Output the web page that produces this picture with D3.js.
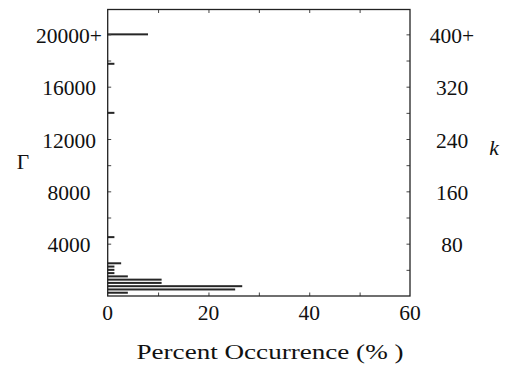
<!DOCTYPE html>
<html>
<head>
<meta charset="utf-8">
<script src="https://cdn.jsdelivr.net/npm/d3@7"></script>
<style>
  html, body { margin: 0; padding: 0; background: #fff; }
  svg text { font-family: "Liberation Serif", "DejaVu Serif", serif; fill: #111; }
</style>
</head>
<body>
<svg id="chart" width="514" height="371"></svg>
<script>
// Histogram of Γ (binned by 250, i.e. k bins of 5); values are percent occurrence
const gammaBins = [250, 500, 750, 1000, 1250, 1500, 1750, 2000, 2250, 2500, 4500, 14000, 17750, 20000];
const percent   = [4.0, 25.3, 26.7, 10.7, 10.7, 4.0, 1.33, 1.33, 1.33, 2.67, 1.33, 1.33, 1.33, 8.0];

const gammaTicks  = [4000, 8000, 12000, 16000, 20000];
const gammaLabels = ["4000", "8000", "12000", "16000", "20000+"];
const gammaMinor  = [2000, 4000, 6000, 8000, 10000, 12000, 14000, 16000, 18000, 20000];
const kTicks      = [80, 160, 240, 320, 400];
const kLabels     = ["80", "160", "240", "320", "400+"];
const kMinor      = [40, 80, 120, 160, 200, 240, 280, 320, 360, 400];
const xTicks      = [0, 20, 40, 60];
const xMinor      = [10, 20, 30, 40, 50];

const svg = d3.select("#chart");
const L = 107.7, R = 410, T = 9.5, B = 296;
const fs = 21.5;

const x = d3.scaleLinear().domain([0, 60]).range([L, R]);
const y = d3.scaleLinear().domain([0, 21900]).range([B, T]);
const yk = d3.scaleLinear().domain([0, 438]).range([B, T]);

// bars
svg.append("g").selectAll("rect")
  .data(gammaBins.map((g, i) => ({ g, p: percent[i] })))
  .join("rect")
  .attr("x", x(0))
  .attr("y", d => y(d.g) - 1)
  .attr("width", d => x(d.p) - x(0))
  .attr("height", 2)
  .attr("fill", "#262626");

const tickLen = 3.5;
const tickStroke = "#444";

// left axis (Γ) inward ticks
svg.append("g").call(d3.axisRight(y).tickValues(gammaMinor).tickSize(tickLen).tickFormat(""))
  .attr("transform", `translate(${L},0)`)
  .call(g => g.select(".domain").remove())
  .call(g => g.selectAll("line").attr("stroke", tickStroke));

// right axis (k) inward ticks
svg.append("g").call(d3.axisLeft(yk).tickValues(kMinor).tickSize(tickLen).tickFormat(""))
  .attr("transform", `translate(${R},0)`)
  .call(g => g.select(".domain").remove())
  .call(g => g.selectAll("line").attr("stroke", tickStroke));

// bottom and top inward ticks
svg.append("g").call(d3.axisTop(x).tickValues(xMinor).tickSize(tickLen).tickFormat(""))
  .attr("transform", `translate(0,${B})`)
  .call(g => g.select(".domain").remove())
  .call(g => g.selectAll("line").attr("stroke", tickStroke));
svg.append("g").call(d3.axisBottom(x).tickValues(xMinor).tickSize(tickLen).tickFormat(""))
  .attr("transform", `translate(0,${T})`)
  .call(g => g.select(".domain").remove())
  .call(g => g.selectAll("line").attr("stroke", tickStroke));

// frame
svg.append("rect")
  .attr("x", L).attr("y", T)
  .attr("width", R - L).attr("height", B - T)
  .attr("fill", "none").attr("stroke", "#222").attr("stroke-width", 1.3);

// tick labels
svg.append("g").selectAll("text")
  .data(gammaTicks.map((v, i) => ({ v, t: gammaLabels[i] })))
  .join("text")
  .attr("x", 69).attr("y", d => y(d.v))
  .attr("dy", "0.4em")
  .attr("text-anchor", "middle")
  .attr("font-size", fs)
  .text(d => d.t);

svg.append("g").selectAll("text")
  .data(kTicks.map((v, i) => ({ v, t: kLabels[i] })))
  .join("text")
  .attr("x", 452).attr("y", d => yk(d.v))
  .attr("dy", "0.4em")
  .attr("text-anchor", "middle")
  .attr("font-size", fs)
  .text(d => d.t);

svg.append("g").selectAll("text")
  .data(xTicks)
  .join("text")
  .attr("x", d => x(d)).attr("y", 320)
  .attr("text-anchor", "middle")
  .attr("font-size", fs)
  .text(d => d);

// axis titles
svg.append("text").attr("x", 23).attr("y", 169)
  .attr("text-anchor", "middle").attr("font-size", fs).text("Γ");
svg.append("text").attr("x", 494).attr("y", 155)
  .attr("text-anchor", "middle").attr("font-size", fs).attr("font-style", "italic").text("k");
svg.append("text").attr("x", 270).attr("y", 359)
  .attr("text-anchor", "middle").attr("font-size", 22)
  .attr("textLength", 267).attr("lengthAdjust", "spacingAndGlyphs")
  .text("Percent Occurrence (% )");
</script>
</body>
</html>
